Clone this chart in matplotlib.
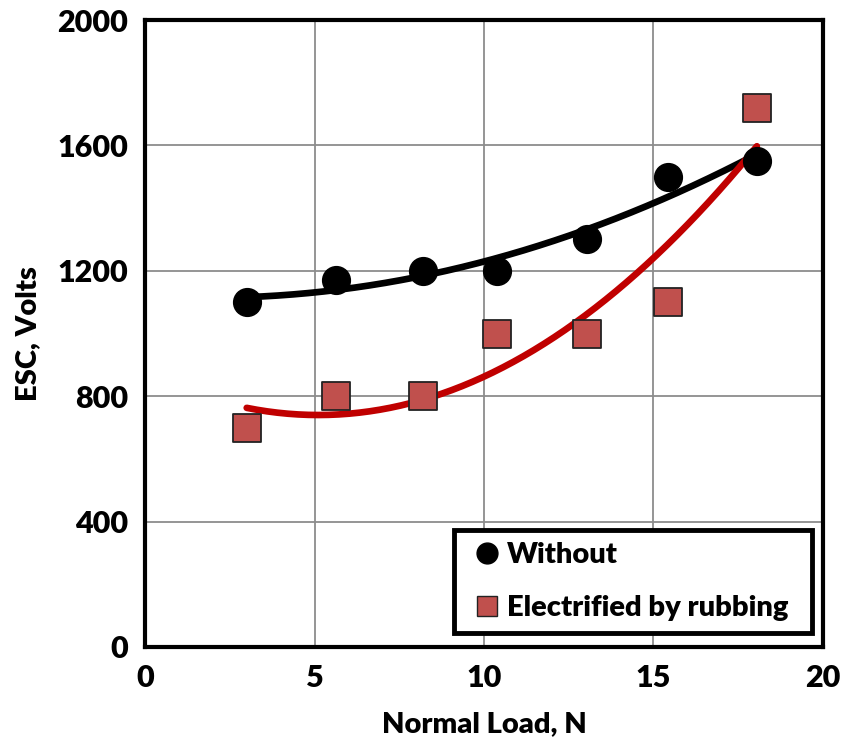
import numpy as np
import matplotlib.pyplot as plt
from matplotlib.lines import Line2D

plt.rcParams['font.family'] = ['Lato', 'DejaVu Sans']
plt.rcParams['font.weight'] = 'bold'

# normal load (N) and surface charge (V)
load = [3.0, 5.63, 8.2, 10.38, 13.04, 15.43, 18.05]
esc_without = [1100, 1170, 1200, 1200, 1300, 1500, 1550]
esc_rubbed = [700, 800, 800, 1000, 1000, 1100, 1720]

fig = plt.figure(figsize=(8.46, 7.53), dpi=100)
ax = fig.add_axes([0.1714, 0.1408, 0.8014, 0.8326])

# 2nd order polynomial trend lines
xs = np.linspace(min(load), max(load), 200)
p1 = np.polyfit(load, esc_without, 2)
p2 = np.polyfit(load, esc_rubbed, 2)
ax.plot(xs, np.polyval(p1, xs), color='black', lw=4.8, solid_capstyle='round', zorder=3)
ax.plot(xs, np.polyval(p2, xs), color='#C00000', lw=4.8, solid_capstyle='round', zorder=3)

ax.scatter(load, esc_without, s=400, marker='o', color='black', zorder=4)
ax.scatter(load, esc_rubbed, s=400, marker='s', facecolor='#C0504D',
           edgecolor='#222222', linewidth=1.3, zorder=4)

ax.set_xlim(0, 20)
ax.set_ylim(0, 2000)
ax.set_xticks([0, 5, 10, 15, 20])
ax.set_yticks([0, 400, 800, 1200, 1600, 2000])
ax.grid(True, color='#8c8c8c', lw=1.3)
ax.set_axisbelow(True)
for s in ax.spines.values():
    s.set_linewidth(3)
    s.set_color('black')
ax.tick_params(length=0, labelsize=22, pad=12)
for lab in ax.get_xticklabels() + ax.get_yticklabels():
    lab.set_fontweight('heavy')

ax.set_xlabel('Normal Load, N', fontsize=21, fontweight='heavy', labelpad=14)
ax.set_ylabel('ESC, Volts', fontsize=21, fontweight='heavy', labelpad=12)

handles = [
    Line2D([], [], marker='o', ls='none', color='black', markersize=15),
    Line2D([], [], marker='s', ls='none', markerfacecolor='#C0504D',
           markeredgecolor='#222222', markersize=15),
]
# legend box stretched to a fixed width inside the lower right corner
leg = ax.legend(handles, ['Without', 'Electrified by rubbing'], loc='lower left',
                bbox_to_anchor=(0.4558, 0.0223, 0.528, 0.1), mode='expand',
                frameon=True, fancybox=False,
                handletextpad=0.0, borderpad=0.42, labelspacing=0.9, handlelength=1.4,
                borderaxespad=0, prop={'weight': 'heavy', 'size': 21})
leg.get_frame().set_edgecolor('black')
leg.get_frame().set_linewidth(3.5)
leg.get_frame().set_alpha(1)

fig.savefig('out.png', dpi=100)
